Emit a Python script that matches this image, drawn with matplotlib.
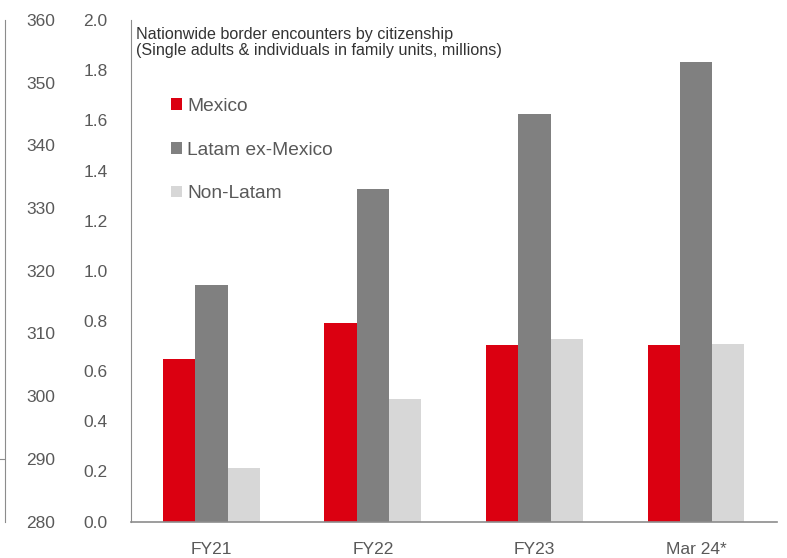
import matplotlib
matplotlib.use("Agg")
import matplotlib.pyplot as plt
from matplotlib.patches import Patch
import numpy as np

categories = ["FY21", "FY22", "FY23", "Mar 24*"]
series_names = ["Mexico", "Latam ex-Mexico", "Non-Latam"]
mexico = [0.647, 0.790, 0.705, 0.705]
latam_ex_mexico = [0.942, 1.326, 1.627, 1.834]
non_latam = [0.213, 0.490, 0.726, 0.709]
colors = ["#DB0011", "#808080", "#D7D7D7"]
left_ticks = [0.0, 0.2, 0.4, 0.6, 0.8, 1.0, 1.2, 1.4, 1.6, 1.8, 2.0]
outer_ticks = [280, 290, 300, 310, 320, 330, 340, 350, 360]
outer_minor_tick = [290]
title = "Nationwide border encounters by citizenship\n(Single adults & individuals in family units, millions)"

plt.rcParams['font.family'] = ['Liberation Sans', 'DejaVu Sans']
text_color = "#595959"
line_color = "#8c8c8c"

fig = plt.figure(figsize=(7.87, 5.58), dpi=100)
ax = fig.add_axes([0.166, 0.0654, 0.821, 0.8986])

x = np.arange(len(categories))
w = 0.2
for i, (vals, c, name) in enumerate(zip([mexico, latam_ex_mexico, non_latam], colors, series_names)):
    ax.bar(x + (i - 1) * w, vals, width=w, color=c, label=name, linewidth=0)

ax.set_xlim(-0.5, 3.5)
ax.set_ylim(0, 2.0)
ax.set_yticks(left_ticks)
ax.set_yticklabels([f"{t:.1f}" for t in left_ticks])
ax.set_xticks(x)
ax.set_xticklabels(categories)
ax.tick_params(axis='y', length=0, pad=16.5, labelsize=12.5, colors=text_color)
ax.tick_params(axis='x', length=0, pad=14.5, labelsize=12.5, colors=text_color)
for s in ['top', 'right']:
    ax.spines[s].set_visible(False)
ax.spines['left'].set_color(line_color)
ax.spines['bottom'].set_color(line_color)
ax.spines['left'].set_linewidth(0.8)
ax.spines['bottom'].set_linewidth(1.2)

# outer secondary axis
ax2 = ax.twinx()
ax2.set_ylim(280, 360)
ax2.spines['right'].set_visible(False)
ax2.spines['top'].set_visible(False)
ax2.spines['bottom'].set_visible(False)
ax2.spines['left'].set_visible(True)
ax2.spines['left'].set_position(('axes', -0.1946))
ax2.spines['left'].set_color(line_color)
ax2.spines['left'].set_linewidth(0.8)
ax2.yaxis.set_ticks_position('left')
ax2.yaxis.set_label_position('left')
ax2.yaxis.remove_overlapping_locs = False
ax2.set_yticks(outer_ticks)
ax2.set_yticklabels([str(t) for t in outer_ticks])
ax2.tick_params(axis='y', which='major', length=0, pad=-36, labelsize=12.5, colors=text_color)
ax2.set_yticks(outer_minor_tick, minor=True)
ax2.tick_params(axis='y', which='minor', left=True, right=False, length=4.0, width=0.8,
                color=line_color, direction='out', labelleft=False)

ax.text(0.008, 0.987, title, transform=ax.transAxes, ha='left', va='top',
        fontsize=11.6, color="#333333", linespacing=1.12)

handles = [Patch(facecolor=c, edgecolor='none') for c in colors]
leg = ax.legend(handles, series_names, loc='upper left', bbox_to_anchor=(0.05, 0.86),
                frameon=False, fontsize=13.8, handlelength=0.58, handleheight=0.58,
                handletextpad=0.3, labelspacing=1.39, borderaxespad=0)
for t in leg.get_texts():
    t.set_color(text_color)

fig.savefig("out.png", dpi=100)
